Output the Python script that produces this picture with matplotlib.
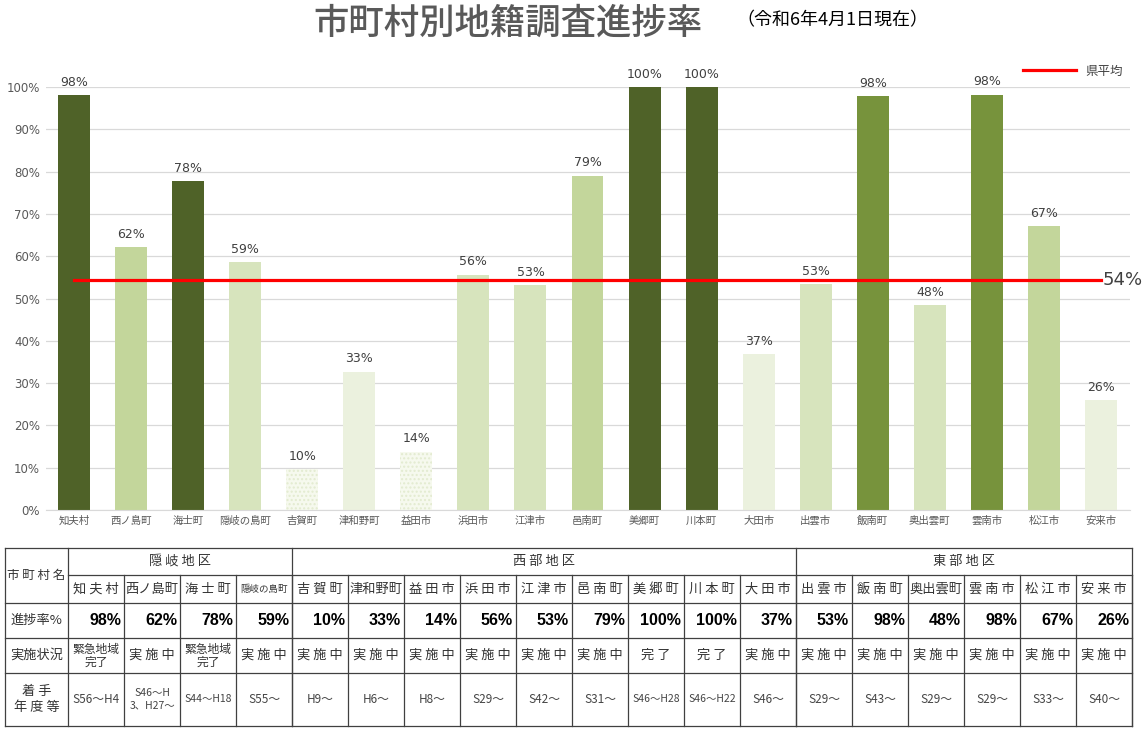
import matplotlib.pyplot as plt
from matplotlib.lines import Line2D
import numpy as np

plt.rcParams['font.family'] = ['Noto Sans CJK JP', 'DejaVu Sans']

# chart data
towns = ["知夫村", "西ノ島町", "海士町", "隠岐の島町", "吉賀町", "津和野町", "益田市",
         "浜田市", "江津市", "邑南町", "美郷町", "川本町", "大田市", "出雲市",
         "飯南町", "奥出雲町", "雲南市", "松江市", "安来市"]
progress = [98.1, 62.2, 77.7, 58.6, 9.7, 32.7, 13.8, 55.6, 53.1, 79.0,
            100.0, 100.0, 36.9, 53.4, 97.8, 48.4, 98.2, 67.1, 25.9]
pref_avg = 54.4
# colour class per town: 0 dark, 1 mid, 2 light, 3 lighter, 4 lightest, 5 dotted
shade = [0, 2, 0, 3, 5, 4, 5, 3, 3, 2, 0, 0, 4, 3, 1, 3, 1, 2, 4]

# table data
districts = [("隠岐地区", 4), ("西部地区", 9), ("東部地区", 6)]
status = ["緊急地域\n完了", "実施中", "緊急地域\n完了", "実施中", "実施中", "実施中", "実施中",
          "実施中", "実施中", "実施中", "完了", "完了", "実施中", "実施中",
          "実施中", "実施中", "実施中", "実施中", "実施中"]
start_year = ["S56〜H4", "S46〜H\n3、H27〜", "S44〜H18", "S55〜", "H9〜", "H6〜", "H8〜",
              "S29〜", "S42〜", "S31〜", "S46〜H28", "S46〜H22", "S46〜", "S29〜",
              "S43〜", "S29〜", "S29〜", "S33〜", "S40〜"]
row_titles = ["市町村名", "進捗率%", "実施状況", "着手\n年度等"]

palette = ["#4F6228", "#77933C", "#C3D69B", "#D7E4BD", "#EBF1DE", "#F6F9EE"]
W, H = 1146, 736
fig = plt.figure(figsize=(W / 100, H / 100), dpi=100)

ax = fig.add_axes([45.5 / W, 1 - 510 / H, 1084 / W, 423 / H])
x = np.arange(len(towns))
bars = ax.bar(x, progress, width=0.56, color=[palette[s] for s in shade], zorder=2)
for b, s in zip(bars, shade):
    if s == 5:
        b.set_hatch("....")
        b.set_edgecolor("#E3EBD0")
        b.set_linewidth(0)
for xi, v in zip(x, progress):
    ax.text(xi, v + 1.5, f"{v:.0f}%", ha="center", va="bottom", fontsize=9,
            color="#404040", family=["DejaVu Sans"], clip_on=False)

ax.plot([x[0], x[-1]], [pref_avg, pref_avg], color="#FF0000", lw=2.3, zorder=3)
ax.text(x[-1] + 0.03, pref_avg, f"{pref_avg:.0f}%", ha="left", va="center",
        fontsize=13, color="#404040", family=["DejaVu Sans"], clip_on=False)

ax.set_xlim(-0.5, len(towns) - 0.5)
ax.set_ylim(0, 100)
ax.set_yticks(range(0, 101, 10))
ax.set_yticklabels([f"{t}%" for t in range(0, 101, 10)], fontsize=8.5, color="#595959",
                   family=["DejaVu Sans"])
ax.set_xticks(x)
ax.set_xticklabels(towns, fontsize=7.5, color="#595959")
ax.tick_params(length=0, pad=4)
ax.grid(axis="y", color="#D9D9D9", lw=0.9, zorder=0)
for sp in ["top", "right", "left"]:
    ax.spines[sp].set_visible(False)
ax.spines["bottom"].set_color("#D9D9D9")

leg = fig.legend(handles=[Line2D([], [], color="#FF0000", lw=2.3)], labels=["県平均"],
                 loc="center left", bbox_to_anchor=(1012 / W, 1 - 71 / H), frameon=False,
                 handlelength=4.2, fontsize=9, labelcolor="#404040")

fig.text(508 / W, 1 - 24 / H, "市町村別地籍調査進捗率", ha="center", va="center",
         fontsize=25.5, color="#595959", fontweight="medium")
fig.text(832 / W, 1 - 20 / H, "（令和6年4月1日現在）", ha="center", va="center",
         fontsize=13, color="black", fontweight="normal")

# table drawn in pixel coordinates
tb = fig.add_axes([0, 0, 1, 1])
tb.set_xlim(0, W)
tb.set_ylim(H, 0)
tb.axis("off")
left, col0, cw = 5, 68, 56
rows = [548, 575, 603, 638, 673, 726]
right = col0 + cw * len(towns)
lc = "#404040"
lw = 0.9
tc = "#333333"
tb.plot([left, right], [rows[0], rows[0]], color=lc, lw=lw)
tb.plot([left, right], [rows[-1], rows[-1]], color=lc, lw=lw)
for yy in rows[2:-1]:
    tb.plot([left, right], [yy, yy], color=lc, lw=lw)
tb.plot([col0, right], [rows[1], rows[1]], color=lc, lw=lw)
tb.plot([left, left], [rows[0], rows[-1]], color=lc, lw=lw)
tb.plot([col0, col0], [rows[0], rows[-1]], color=lc, lw=lw)
start = 0
for name, n in districts:
    x0 = col0 + start * cw
    x1 = x0 + n * cw
    tb.plot([x1, x1], [rows[0], rows[-1]], color=lc, lw=lw)
    tb.text((x0 + x1) / 2, (rows[0] + rows[1]) / 2, " ".join(name), ha="center", va="center",
            fontsize=9.5, color=tc)
    start += n
for i in range(len(towns)):
    cx = col0 + (i + 0.5) * cw
    xr = col0 + (i + 1) * cw
    tb.plot([xr, xr], [rows[1], rows[-1]], color=lc, lw=lw)
    nm = towns[i]
    if len(nm) >= 5:
        fs, label = 6.8, nm
    elif len(nm) == 4:
        fs, label = 9.5, nm
    else:
        fs, label = 9.5, " ".join(nm)
    tb.text(cx, (rows[1] + rows[2]) / 2, label, ha="center", va="center", fontsize=fs,
            color=tc)
    tb.text(xr - 3, (rows[2] + rows[3]) / 2, f"{progress[i]:.0f}%", ha="right", va="center",
            fontsize=11.5, fontweight="bold", family=["Liberation Sans"], color="black")
    st = status[i]
    if "\n" in st:
        tb.text(cx, (rows[3] + rows[4]) / 2, st, ha="center", va="center",
                fontsize=8.5, linespacing=1.0, color=tc)
    else:
        tb.text(cx, (rows[3] + rows[4]) / 2, " ".join(st), ha="center", va="center",
                fontsize=9.5, color=tc)
    sy = start_year[i]
    tb.text(cx, (rows[4] + rows[5]) / 2, sy, ha="center", va="center",
            fontsize=7.5 if len(sy) > 6 else 8.5, linespacing=1.3, color="#444444")
tb.text((left + col0) / 2, (rows[0] + rows[2]) / 2, " ".join(row_titles[0]), ha="center",
        va="center", fontsize=9, color=tc)
for k, yy in enumerate([(rows[2] + rows[3]) / 2, (rows[3] + rows[4]) / 2, (rows[4] + rows[5]) / 2]):
    t = row_titles[k + 1]
    if "\n" in t:
        t = "\n".join(" ".join(p) for p in t.split("\n"))
    tb.text((left + col0) / 2, yy, t, ha="center", va="center",
            fontsize=9.5, color=tc, linespacing=1.4)

fig.savefig("out.png", dpi=100)
